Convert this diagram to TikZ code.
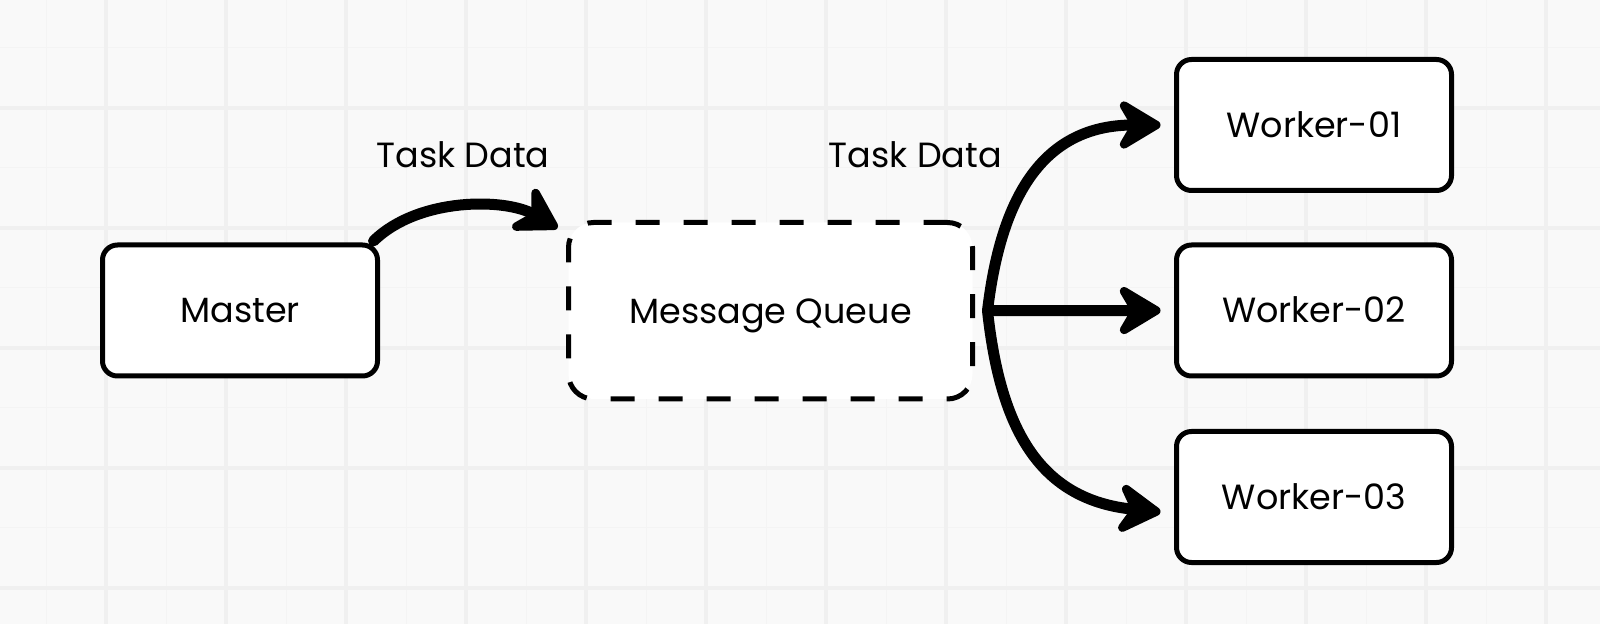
\documentclass[tikz,border=0pt]{standalone}
\usepackage{fontspec}
\setmainfont{Poppins}
\usetikzlibrary{arrows.meta}
\definecolor{paper}{HTML}{F9F9F9}
\definecolor{gridmajor}{HTML}{F0F0F0}
\definecolor{gridminor}{HTML}{F4F4F4}

\begin{document}
\begin{tikzpicture}[x=0.5pt, y=-0.5pt, font=\fontsize{17.5}{20}\selectfont,
    every node/.style={outer sep=0pt, inner sep=0pt},
    box/.style={draw, fill=white, line width=2.5pt, rounded corners=7.5pt, minimum width=137.5pt, minimum height=65.5pt, text height=12.3pt, text depth=0pt},
    queuebox/.style={box, dash pattern=on 12pt off 12pt, rounded corners=12.5pt, minimum width=202pt, minimum height=88.25pt},
    flow/.style={line width=5.5pt, line cap=round, line join=round, -{Stealth[length=26pt, width=31pt, inset=9pt, round]}}]
    \useasboundingbox (0,0) rectangle (1600,624);
    % grid paper
    \fill[paper] (0,0) rectangle (1600,624);
    \foreach \gx in {46,166,...,1600} \draw[gridminor, line width=0.5pt] (\gx,0) -- (\gx,624);
    \foreach \gy in {48,168,...,624} \draw[gridminor, line width=0.5pt] (0,\gy) -- (1600,\gy);
    \foreach \gx in {106,226,...,1600} \draw[gridmajor, line width=2pt] (\gx,0) -- (\gx,624);
    \foreach \gy in {108,228,...,624} \draw[gridmajor, line width=2pt] (0,\gy) -- (1600,\gy);

    \node[box] (master) at (240,310.5) {Master};
    \node[queuebox] (queue) at (770.5,310.75) {Message Queue};
    \node[box] (w1) at (1314,125) {Worker-01};
    \node[box] (w2) at (1314,310.5) {Worker-02};
    \node[box] (w3) at (1314,497) {Worker-03};
    \node[anchor=base] (lbla) at (463,168) {Task Data};
    \node[anchor=base] (lblb) at (915.5,168) {Task Data};
    \coordinate (fork) at ([xshift=7.5pt]queue.east);

    \draw[flow] ([shift={(-2pt,2pt)}]master.north east) .. controls +(45,-44) and +(-52,-30) .. ([shift={(-5.5pt,-2.75pt)}]queue.north west);
    \draw[flow] (fork) .. controls +(13,-110) and +(-120,0) .. ([xshift=-8pt]w1.west);
    \draw[flow] (fork) -- ([xshift=-8pt]w2.west);
    \draw[flow] (fork) .. controls +(13,120) and +(-120,-12) .. ([shift={(-8pt,-7.5pt)}]w3.west);
\end{tikzpicture}
\end{document}
